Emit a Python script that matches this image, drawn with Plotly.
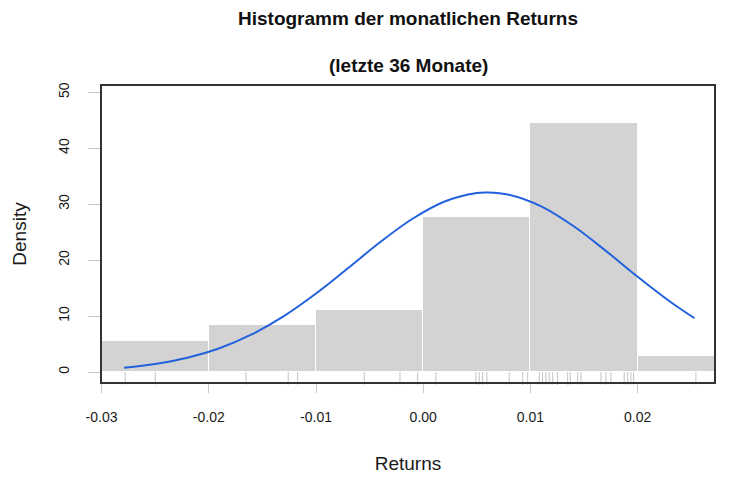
import plotly.graph_objects as go

# ---- data ----
bin_left = [-0.03, -0.02, -0.01, 0.00, 0.01, 0.02]
bin_width = 0.01
density = [5.56, 8.33, 11.11, 27.78, 44.44, 2.78]

curve_x = [-0.0279, -0.025, -0.022, -0.019, -0.016, -0.013, -0.010, -0.007, -0.004,
           -0.001, 0.002, 0.005, 0.006, 0.008, 0.011, 0.014, 0.017, 0.020, 0.023, 0.0253]
curve_y = [0.76, 1.43, 2.54, 4.25, 6.71, 9.98, 14.02, 18.58, 23.23,
           27.39, 30.48, 32.00, 32.10, 31.69, 29.61, 26.09, 21.70, 17.02, 12.60, 9.61]

rug = [-0.02779, -0.02499, -0.01653, -0.01259, -0.01171, -0.00550, -0.00217, -0.00052,
       0.00118, 0.00491, 0.00522, 0.00554, 0.00594, 0.00802, 0.00927, 0.00974,
       0.01082, 0.01113, 0.01144, 0.01175, 0.01207, 0.01253, 0.01347, 0.01371,
       0.01440, 0.01471, 0.01657, 0.01704, 0.01750, 0.01874, 0.01906, 0.01937,
       0.01962, 0.02543]

x_ticks = [-0.03, -0.02, -0.01, 0.00, 0.01, 0.02]
x_ticklabels = ["-0.03", "-0.02", "-0.01", "0.00", "0.01", "0.02"]
y_ticks = [0, 10, 20, 30, 40, 50]

title_1 = "Histogramm der monatlichen Returns"
title_2 = "(letzte 36 Monate)"
x_title = "Returns"
y_title = "Density"

FONT = "Liberation Sans, Arial, Helvetica, sans-serif"
RUG_COLOR = "#c4c4c4"

fig = go.Figure()

fig.add_trace(go.Bar(
    x=[b + bin_width / 2 for b in bin_left],
    y=density,
    width=[bin_width] * len(bin_left),
    marker=dict(color="#d3d3d3", line=dict(color="white", width=1)),
    hoverinfo="skip",
    showlegend=False,
))

fig.add_trace(go.Scatter(
    x=rug,
    y=[-1.15] * len(rug),
    mode="markers",
    marker=dict(symbol="line-ns-open", size=9, color=RUG_COLOR,
                line=dict(color=RUG_COLOR, width=1)),
    hoverinfo="skip",
    showlegend=False,
    cliponaxis=False,
))

fig.add_trace(go.Scatter(
    x=curve_x,
    y=curve_y,
    mode="lines",
    line=dict(color="#2362dc", width=2, shape="spline"),
    hoverinfo="skip",
    showlegend=False,
))

# plot box
fig.add_shape(type="rect", xref="paper", yref="paper", x0=0, x1=1, y0=0, y1=1,
              line=dict(color="#333333", width=2), layer="above")

fig.update_layout(
    width=749, height=478,
    margin=dict(l=101, r=34, t=85, b=95, autoexpand=False),
    paper_bgcolor="white", plot_bgcolor="white",
    font=dict(family=FONT, size=14, color="#1a1a1a"),
    bargap=0,
    annotations=[
        dict(text="<b>" + title_1 + "</b>", xref="paper", yref="paper", x=0.5, y=1.223,
             xanchor="center", yanchor="middle", showarrow=False,
             font=dict(family=FONT, size=19, color="#111111")),
        dict(text="<b>" + title_2 + "</b>", xref="paper", yref="paper", x=0.5, y=1.067,
             xanchor="center", yanchor="middle", showarrow=False,
             font=dict(family=FONT, size=19, color="#111111")),
    ],
    xaxis=dict(
        range=[-0.03005, 0.02721],
        tickmode="array", tickvals=x_ticks, ticktext=x_ticklabels,
        ticks="outside", ticklen=9, tickwidth=1, tickcolor="#c8c8c8",
        ticklabelstandoff=12,
        showgrid=False, zeroline=False, showline=False,
        tickfont=dict(family=FONT, size=14, color="#1a1a1a"),
        title=dict(text=x_title, standoff=32, font=dict(family=FONT, size=19, color="#1a1a1a")),
        fixedrange=True,
    ),
    yaxis=dict(
        range=[-1.966, 51.3],
        tickmode="array", tickvals=y_ticks,
        ticks="outside", ticklen=12, tickwidth=1, tickcolor="#c8c8c8",
        tickangle=-90,
        ticklabelstandoff=13,
        showgrid=False, zeroline=False, showline=False,
        tickfont=dict(family=FONT, size=14, color="#1a1a1a"),
        title=dict(text=y_title, standoff=24, font=dict(family=FONT, size=19, color="#1a1a1a")),
        fixedrange=True,
    ),
)

fig.write_html("out.html", config={"displayModeBar": False})

# remove the default 8px page margin so the figure fills the window exactly
with open("out.html", "r", encoding="utf-8") as f:
    html = f.read()
html = html.replace("<body>", '<body style="margin:0">', 1)
with open("out.html", "w", encoding="utf-8") as f:
    f.write(html)
